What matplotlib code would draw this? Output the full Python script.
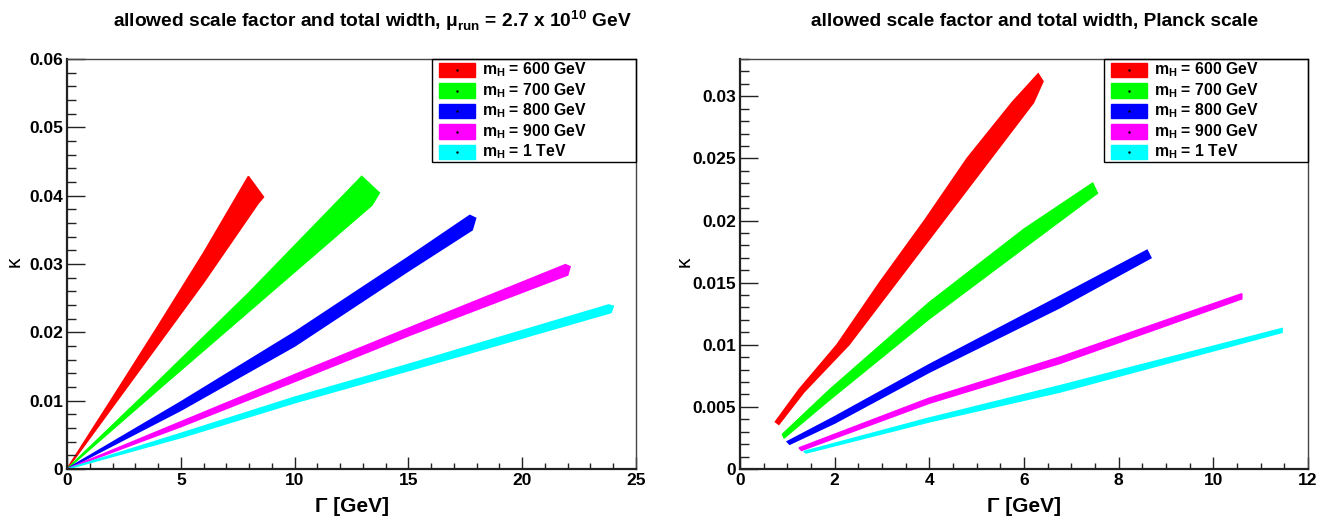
import matplotlib
matplotlib.use("Agg")
import matplotlib.pyplot as plt
from matplotlib.patches import Rectangle
from matplotlib.ticker import MultipleLocator, FuncFormatter

plt.rcParams['font.family'] = ['Liberation Sans', 'DejaVu Sans']

masses = ['600 GeV', '700 GeV', '800 GeV', '900 GeV', '1 TeV']
colors = ['#ff0000', '#00ff00', '#0000ff', '#ff00ff', '#00ffff']

# --- left panel: mu_run = 2.7e10 GeV (band edges) ---
run_600_top_g = [0, 2, 4, 6, 7.97]
run_600_top_k = [0, 0.0104, 0.0209, 0.0316, 0.0428]
run_600_bot_g = [0, 2, 4, 6, 8.4, 8.63]
run_600_bot_k = [0, 0.0091, 0.0182, 0.0273, 0.0389, 0.0398]

run_700_top_g = [0, 4, 8, 12.95]
run_700_top_k = [0, 0.0128, 0.0258, 0.0428]
run_700_bot_g = [0, 4, 8, 13.39, 13.72]
run_700_bot_k = [0, 0.0116, 0.0231, 0.0386, 0.0404]

run_800_top_g = [0, 5, 10, 15, 17.7]
run_800_top_k = [0, 0.0098, 0.0200, 0.0310, 0.0371]
run_800_bot_g = [0, 5, 10, 15, 17.8, 17.95]
run_800_bot_k = [0, 0.0086, 0.0180, 0.0290, 0.0350, 0.0367]

run_900_top_g = [0, 5, 10, 15, 21.9]
run_900_top_k = [0, 0.0069, 0.0138, 0.0206, 0.0299]
run_900_bot_g = [0, 5, 10, 15, 22.0, 22.1]
run_900_bot_k = [0, 0.0062, 0.0128, 0.0195, 0.0284, 0.0296]

run_1000_top_g = [0, 5, 10, 15, 23.8]
run_1000_top_k = [0, 0.0052, 0.0105, 0.0153, 0.0240]
run_1000_bot_g = [0, 5, 10, 15, 23.9, 24.0]
run_1000_bot_k = [0, 0.0046, 0.0097, 0.0144, 0.0229, 0.0238]

# --- right panel: Planck scale ---
pl_600_top_g = [0.75, 1.25, 2.05, 2.95, 3.9, 4.8, 5.75, 6.3]
pl_600_top_k = [0.0038, 0.0064, 0.0100, 0.0150, 0.0200, 0.0250, 0.0295, 0.0318]
pl_600_bot_g = [0.82, 1.35, 2.3, 3.3, 4.3, 5.3, 6.2, 6.4]
pl_600_bot_k = [0.0036, 0.0062, 0.0100, 0.0150, 0.0200, 0.0250, 0.0295, 0.0312]

pl_700_top_g = [0.90, 1.9, 4.0, 6.0, 7.45]
pl_700_top_k = [0.0028, 0.0064, 0.0134, 0.0193, 0.0230]
pl_700_bot_g = [0.93, 1.9, 4.0, 6.0, 7.55]
pl_700_bot_k = [0.0025, 0.0056, 0.0121, 0.0178, 0.0222]

pl_800_top_g = [1.0, 2.0, 4.0, 6.76, 8.6]
pl_800_top_k = [0.0022, 0.0042, 0.0084, 0.0139, 0.0176]
pl_800_bot_g = [1.05, 2.0, 4.0, 6.76, 8.68]
pl_800_bot_k = [0.0020, 0.0037, 0.0078, 0.0130, 0.0170]

pl_900_top_g = [1.25, 4.0, 6.76, 10.6]
pl_900_top_k = [0.0017, 0.0057, 0.0090, 0.0141]
pl_900_bot_g = [1.3, 4.0, 6.76, 10.6]
pl_900_bot_k = [0.0015, 0.0053, 0.0085, 0.0137]

pl_1000_top_g = [1.35, 4.0, 6.76, 11.45]
pl_1000_top_k = [0.0014, 0.0041, 0.0067, 0.0113]
pl_1000_bot_g = [1.4, 4.0, 6.76, 11.45]
pl_1000_bot_k = [0.0013, 0.0038, 0.0062, 0.0110]

left_bands = [
    (run_600_top_g, run_600_top_k, run_600_bot_g, run_600_bot_k),
    (run_700_top_g, run_700_top_k, run_700_bot_g, run_700_bot_k),
    (run_800_top_g, run_800_top_k, run_800_bot_g, run_800_bot_k),
    (run_900_top_g, run_900_top_k, run_900_bot_g, run_900_bot_k),
    (run_1000_top_g, run_1000_top_k, run_1000_bot_g, run_1000_bot_k),
]
right_bands = [
    (pl_600_top_g, pl_600_top_k, pl_600_bot_g, pl_600_bot_k),
    (pl_700_top_g, pl_700_top_k, pl_700_bot_g, pl_700_bot_k),
    (pl_800_top_g, pl_800_top_k, pl_800_bot_g, pl_800_bot_k),
    (pl_900_top_g, pl_900_top_k, pl_900_bot_g, pl_900_bot_k),
    (pl_1000_top_g, pl_1000_top_k, pl_1000_bot_g, pl_1000_bot_k),
]

W, H = 1335, 519
fig = plt.figure(figsize=(W / 100, H / 100), dpi=100)


def px_axes(x0, y0, x1, y1):
    return fig.add_axes([x0 / W, 1 - y1 / H, (x1 - x0) / W, (y1 - y0) / H])


def draw_panel(ax, bands, xmax, ymax, xmaj, xmin, ymaj, ymin):
    for (tg, tk, bg, bk), c in zip(bands, colors):
        ax.fill(tg + bg[::-1], tk + bk[::-1], color=c, lw=1.2, ec=c)
    ax.set_xlim(0, xmax)
    ax.set_ylim(0, ymax)
    ax.xaxis.set_major_locator(MultipleLocator(xmaj))
    ax.xaxis.set_minor_locator(MultipleLocator(xmin))
    ax.yaxis.set_major_locator(MultipleLocator(ymaj))
    ax.yaxis.set_minor_locator(MultipleLocator(ymin))
    fmt = FuncFormatter(lambda v, p: '%g' % round(v, 6))
    ax.xaxis.set_major_formatter(fmt)
    ax.yaxis.set_major_formatter(fmt)
    ax.tick_params(which='both', direction='in', top=False, right=False,
                   labelsize=12.5, color='#222222', width=1.0)
    ax.tick_params(axis='y', which='major', length=13, pad=3)
    ax.tick_params(axis='y', which='minor', length=6.5)
    ax.tick_params(axis='x', which='major', length=8.6, pad=3)
    ax.tick_params(axis='x', which='minor', length=4.3)
    for lab in ax.get_xticklabels() + ax.get_yticklabels():
        lab.set_fontweight('bold')
    for s in ['left', 'bottom']:
        ax.spines[s].set_linewidth(1.6)
        ax.spines[s].set_color('#222222')
    for s in ['top', 'right']:
        ax.spines[s].set_linewidth(1.0)
        ax.spines[s].set_color('#444444')

    # ROOT style legend box, fixed size in the upper right corner
    bb = ax.get_position()
    aw, ah = bb.width * W, bb.height * H
    ax.add_patch(Rectangle((1 - 204 / aw, 1 - 103 / ah), 204 / aw, 103 / ah,
                           transform=ax.transAxes, fill=False, ec='black',
                           lw=1.0, clip_on=False, zorder=5))
    for i, (m, c) in enumerate(zip(masses, colors)):
        yc = 1 - (11 + 20.5 * i) / ah
        x0 = 1 - 197 / aw
        ax.add_patch(Rectangle((x0, yc - 7 / ah), 36 / aw, 14 / ah,
                               transform=ax.transAxes, color=c, zorder=6,
                               clip_on=False))
        ax.plot([x0 + 18 / aw], [yc], marker='.', ms=1.5, color='black',
                transform=ax.transAxes, zorder=7, clip_on=False)
        ax.text(1 - 154 / aw, yc, 'm$_\\mathregular{H}$ = ' + m,
                transform=ax.transAxes, fontsize=11.3, fontweight='bold',
                va='center', ha='left', zorder=7)


ax1 = px_axes(67, 59, 636, 469)
draw_panel(ax1, left_bands, 25, 0.06, 5, 1, 0.01, 0.002)
ax2 = px_axes(740, 59, 1308, 469)
draw_panel(ax2, right_bands, 12, 0.033, 2, 0.5, 0.005, 0.001)

fig.text(372 / W, 1 - 21 / H,
         'allowed scale factor and total width, μ$_\\mathregular{run}$ = 2.7 x 10$^\\mathregular{10}$ GeV',
         ha='center', va='center', fontsize=13.8, fontweight='bold')
fig.text(1035 / W, 1 - 22 / H,
         'allowed scale factor and total width, Planck scale',
         ha='center', va='center', fontsize=13.8, fontweight='bold')

for cx in [351.5, 1024]:
    fig.text(cx / W, 1 - 507 / H, 'Γ [GeV]', ha='center', va='center',
             fontsize=15, fontweight='bold')
for kx in [14, 684]:
    fig.text(kx / W, 1 - 262 / H, 'κ', ha='center', va='center',
             fontsize=15, rotation=90)

fig.savefig('out.png', dpi=100)
